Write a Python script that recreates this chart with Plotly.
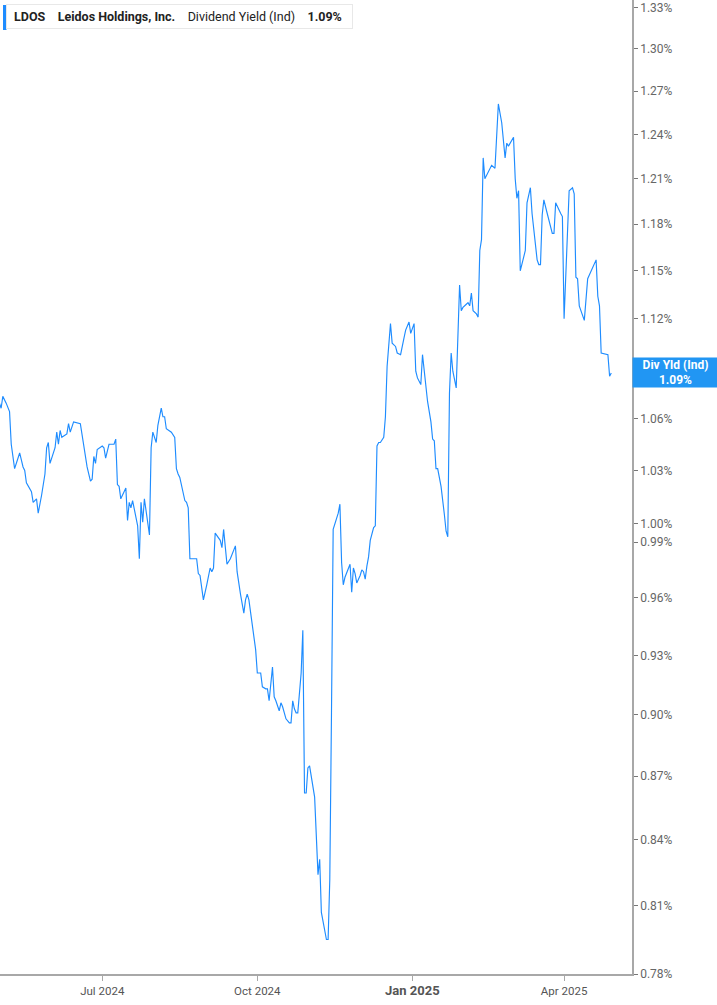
import math
import plotly.graph_objects as go

# ---- data ----
dates = [
    "2024-05-01", "2024-05-02", "2024-05-03", "2024-05-05", "2024-05-07", "2024-05-08", "2024-05-10",
    "2024-05-13", "2024-05-14", "2024-05-15", "2024-05-16", "2024-05-17", "2024-05-20", "2024-05-21",
    "2024-05-23", "2024-05-24", "2024-05-26", "2024-05-28", "2024-05-29", "2024-05-30", "2024-05-31",
    "2024-06-03", "2024-06-04", "2024-06-05", "2024-06-06", "2024-06-07", "2024-06-10", "2024-06-11",
    "2024-06-12", "2024-06-14", "2024-06-18", "2024-06-20", "2024-06-22", "2024-06-24", "2024-06-25",
    "2024-06-26", "2024-06-27", "2024-06-28", "2024-07-01", "2024-07-02", "2024-07-03", "2024-07-05",
    "2024-07-08", "2024-07-09", "2024-07-10", "2024-07-11", "2024-07-12", "2024-07-15", "2024-07-16",
    "2024-07-17", "2024-07-18", "2024-07-19", "2024-07-22", "2024-07-23", "2024-07-24", "2024-07-25",
    "2024-07-26", "2024-07-29", "2024-07-30", "2024-07-31", "2024-08-02", "2024-08-03", "2024-08-05",
    "2024-08-06", "2024-08-07", "2024-08-08", "2024-08-11", "2024-08-13", "2024-08-14", "2024-08-15",
    "2024-08-16", "2024-08-19", "2024-08-20", "2024-08-21", "2024-08-22", "2024-08-26", "2024-08-27",
    "2024-08-28", "2024-08-30", "2024-09-01", "2024-09-03", "2024-09-04", "2024-09-05", "2024-09-06",
    "2024-09-09", "2024-09-10", "2024-09-11", "2024-09-13", "2024-09-15", "2024-09-18", "2024-09-19",
    "2024-09-21", "2024-09-23", "2024-09-24", "2024-09-25", "2024-09-26", "2024-09-28", "2024-09-30",
    "2024-10-01", "2024-10-02", "2024-10-03", "2024-10-04", "2024-10-06", "2024-10-07", "2024-10-08",
    "2024-10-10", "2024-10-11", "2024-10-12", "2024-10-14", "2024-10-15", "2024-10-16", "2024-10-18",
    "2024-10-20", "2024-10-21", "2024-10-22", "2024-10-23", "2024-10-24", "2024-10-25", "2024-10-27",
    "2024-10-28", "2024-10-29", "2024-10-30", "2024-10-31", "2024-11-01", "2024-11-04", "2024-11-06",
    "2024-11-07", "2024-11-08", "2024-11-11", "2024-11-12", "2024-11-13", "2024-11-14", "2024-11-15",
    "2024-11-18", "2024-11-19", "2024-11-20", "2024-11-21", "2024-11-22", "2024-11-25", "2024-11-26",
    "2024-11-27", "2024-11-28", "2024-11-29", "2024-12-01", "2024-12-02", "2024-12-03", "2024-12-04",
    "2024-12-05", "2024-12-06", "2024-12-07", "2024-12-09", "2024-12-10", "2024-12-11", "2024-12-12",
    "2024-12-13", "2024-12-15", "2024-12-16", "2024-12-17", "2024-12-19", "2024-12-20", "2024-12-22",
    "2024-12-23", "2024-12-25", "2024-12-27", "2024-12-28", "2024-12-30", "2024-12-31", "2025-01-02",
    "2025-01-03", "2025-01-04", "2025-01-06", "2025-01-07", "2025-01-08", "2025-01-10", "2025-01-12",
    "2025-01-13", "2025-01-14", "2025-01-15", "2025-01-16", "2025-01-18", "2025-01-20", "2025-01-21",
    "2025-01-22", "2025-01-23", "2025-01-24", "2025-01-25", "2025-01-27", "2025-01-28", "2025-01-29",
    "2025-01-30", "2025-01-31", "2025-02-02", "2025-02-03", "2025-02-04", "2025-02-05", "2025-02-06",
    "2025-02-08", "2025-02-09", "2025-02-10", "2025-02-11", "2025-02-12", "2025-02-13", "2025-02-16",
    "2025-02-17", "2025-02-19", "2025-02-21", "2025-02-23", "2025-02-25", "2025-02-26", "2025-02-27",
    "2025-03-02", "2025-03-03", "2025-03-04", "2025-03-05", "2025-03-06", "2025-03-09", "2025-03-10",
    "2025-03-12", "2025-03-13", "2025-03-16", "2025-03-17", "2025-03-18", "2025-03-19", "2025-03-20",
    "2025-03-22", "2025-03-25", "2025-03-26", "2025-03-27", "2025-03-30", "2025-03-31", "2025-04-01",
    "2025-04-04", "2025-04-06", "2025-04-07", "2025-04-08", "2025-04-09", "2025-04-10", "2025-04-13",
    "2025-04-15", "2025-04-17", "2025-04-20", "2025-04-21", "2025-04-22", "2025-04-23", "2025-04-26",
    "2025-04-27", "2025-04-28", "2025-04-29",
]

div_yield = [
    1.069, 1.066, 1.073, 1.069, 1.064, 1.045, 1.031,
    1.040, 1.036, 1.032, 1.030, 1.023, 1.018, 1.012,
    1.014, 1.006, 1.016, 1.028, 1.043, 1.046, 1.034,
    1.043, 1.052, 1.045, 1.053, 1.049, 1.051, 1.057,
    1.052, 1.058, 1.057, 1.043, 1.032, 1.024, 1.025,
    1.038, 1.034, 1.042, 1.044, 1.043, 1.037, 1.045,
    1.045, 1.048, 1.022, 1.021, 1.014, 1.020, 1.002,
    1.012, 1.009, 1.013, 0.999, 0.981, 1.012, 1.001,
    1.014, 0.994, 1.043, 1.052, 1.046, 1.056, 1.066,
    1.061, 1.061, 1.054, 1.052, 1.049, 1.031, 1.028,
    1.026, 1.013, 1.012, 1.009, 0.981, 0.981, 0.973,
    0.972, 0.959, 0.967, 0.976, 0.974, 0.976, 0.995,
    0.991, 0.987, 0.997, 0.978, 0.981, 0.988, 0.974,
    0.962, 0.952, 0.959, 0.962, 0.959, 0.946, 0.933,
    0.921, 0.921, 0.921, 0.914, 0.913, 0.913, 0.907,
    0.924, 0.909, 0.907, 0.902, 0.906, 0.904, 0.898,
    0.896, 0.896, 0.907, 0.903, 0.901, 0.901, 0.921,
    0.943, 0.862, 0.862, 0.874, 0.875, 0.860, 0.824,
    0.831, 0.807, 0.795, 0.795, 0.822, 0.901, 0.997,
    1.006, 1.011, 0.979, 0.967, 0.971, 0.978, 0.963,
    0.976, 0.973, 0.968, 0.972, 0.975, 0.974, 0.970,
    0.977, 0.982, 0.991, 0.998, 0.999, 1.044, 1.046,
    1.046, 1.049, 1.061, 1.091, 1.117, 1.105, 1.103,
    1.099, 1.098, 1.108, 1.113, 1.118, 1.111, 1.117,
    1.088, 1.084, 1.080, 1.098, 1.089, 1.070, 1.058,
    1.048, 1.047, 1.031, 1.031, 1.021, 1.005, 0.996,
    0.993, 1.075, 1.099, 1.088, 1.078, 1.117, 1.141,
    1.125, 1.127, 1.129, 1.130, 1.128, 1.136, 1.125,
    1.123, 1.121, 1.163, 1.170, 1.224, 1.210, 1.216,
    1.219, 1.217, 1.261, 1.248, 1.224, 1.234, 1.232,
    1.238, 1.210, 1.197, 1.202, 1.150, 1.163, 1.194,
    1.204, 1.187, 1.157, 1.154, 1.154, 1.186, 1.196,
    1.187, 1.174, 1.174, 1.194, 1.187, 1.185, 1.120,
    1.202, 1.204, 1.200, 1.146, 1.145, 1.128, 1.119,
    1.145, 1.150, 1.157, 1.134, 1.128, 1.099, 1.098,
    1.098, 1.085, 1.087,
]

y_tick_values = [0.78, 0.81, 0.84, 0.87, 0.90, 0.93, 0.96, 0.99, 1.00, 1.03, 1.06,
                 1.12, 1.15, 1.18, 1.21, 1.24, 1.27, 1.30, 1.33]
x_tick_dates = ["2024-07-01", "2024-10-01", "2025-01-01", "2025-04-01"]
x_tick_labels = ["Jul 2024", "Oct 2024", "<b><span style='font-size:13px'>Jan 2025</span></b>", "Apr 2025"]

ticker = "LDOS"
company = "Leidos Holdings, Inc."
metric = "Dividend Yield (Ind)"
short_metric = "Div Yld (Ind)"

LINE = "#1e8cff"
last_val = div_yield[-1]

fig = go.Figure()
fig.add_trace(go.Scatter(
    x=dates, y=div_yield, mode="lines",
    line=dict(color=LINE, width=1.15),
    hoverinfo="skip", showlegend=False,
))

fig.update_layout(
    width=717, height=1005,
    margin=dict(l=0, r=85, t=0, b=31),
    paper_bgcolor="white", plot_bgcolor="white",
    font=dict(family="Roboto, Inter, sans-serif", color="#555"),
    showlegend=False,
)

fig.update_xaxes(
    type="date",
    range=["2024-05-01 08:00", "2025-05-11 07:00"],
    tickvals=x_tick_dates, ticktext=x_tick_labels,
    showgrid=False, zeroline=False,
    showline=True, linecolor="#a8a8a8", linewidth=1.5,
    ticks="outside", ticklen=5, tickcolor="#a8a8a8", tickwidth=1,
    tickfont=dict(size=11.5, color="#555", family="Roboto"),
)

fig.update_yaxes(
    type="log", side="right",
    range=[math.log10(0.78), math.log10(1.3355)],
    tickvals=y_tick_values,
    ticktext=[f"{v:.2f}%" for v in y_tick_values],
    showgrid=False, zeroline=False,
    showline=True, linecolor="#a8a8a8", linewidth=1.5,
    ticks="outside", ticklen=4, tickcolor="#777", tickwidth=1,
    tickfont=dict(size=12, color="#666", family="Roboto"),
)

# header / legend box
fig.add_annotation(
    xref="paper", yref="paper", x=0, y=1, xshift=6, yshift=-4,
    xanchor="left", yanchor="top", showarrow=False, align="left",
    text=f" <b>{ticker}</b>    <b>{company}</b>    {metric}    <b>{last_val:.2f}%</b>  ",
    font=dict(size=12.5, color="#222", family="Roboto"),
    bgcolor="white", bordercolor="#e8e8e8", borderwidth=1, borderpad=4,
)
fig.add_shape(
    type="rect", xref="paper", yref="paper", layer="above",
    xsizemode="pixel", ysizemode="pixel", xanchor=0, yanchor=1,
    x0=3, x1=6.5, y0=-5, y1=-30,
    fillcolor=LINE, line=dict(width=0),
)

# last value label on the right axis
fig.add_annotation(
    xref="paper", yref="y", x=1, y=math.log10(last_val),
    xanchor="left", yanchor="middle", showarrow=False, align="center",
    text=f"<b>{short_metric}</b><br><b>{last_val:.2f}%</b>",
    font=dict(size=12, color="white", family="Roboto"),
    bgcolor="#2196f3", borderpad=2, width=81, height=25,
)

fig.write_html(
    "out.html",
    config={"displayModeBar": False},
    post_script="document.body.style.margin='0';document.body.style.overflow='hidden';",
)
